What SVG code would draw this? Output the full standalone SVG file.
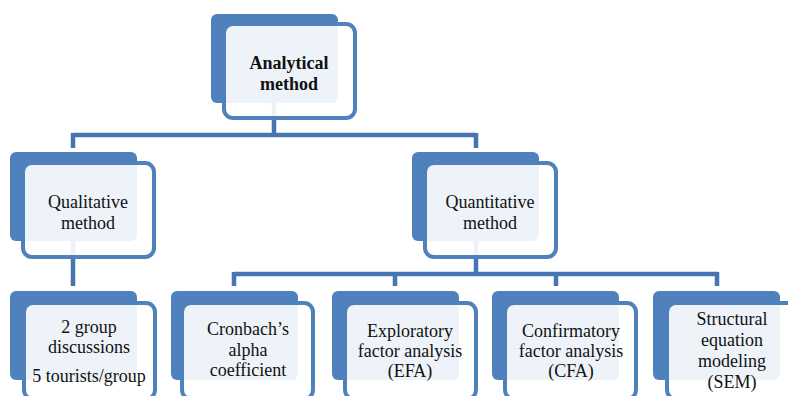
<svg xmlns="http://www.w3.org/2000/svg" width="788" height="396" viewBox="0 0 788 396" font-family="'Liberation Serif', 'DejaVu Serif', serif">
<style>
.back{fill:#4F81BD}
.front{fill:#ffffff;fill-opacity:0.9;stroke:#4F81BD;stroke-width:4}
.conn{fill:none;stroke:#4675B2;stroke-width:4.5}
text{font-family:'Liberation Serif','DejaVu Serif',serif;font-size:18px;fill:#111;text-anchor:middle}
.b{font-weight:bold}
</style>
<rect width="788" height="396" fill="#ffffff"/>
<g id="connectors">
<path class="conn" d="M274 100 V135 M73 135 H476 M73 133 V148 M476 133 V148"/>
<path class="conn" d="M73 240 V286"/>
<path class="conn" d="M476 240 V274 M234 274 H718 M234 272 V286 M395 272 V286 M556 272 V286 M717 272 V286"/>
</g>
<g id="analytical">
<rect class="back" x="211" y="14" width="127" height="89" rx="6"/>
<rect class="front" x="224" y="24" width="131" height="94" rx="9"/>
<text class="b" x="289" y="69">Analytical</text>
<text class="b" x="289" y="90">method</text>
</g>
<g id="qualitative">
<rect class="back" x="10" y="152" width="127" height="89" rx="6"/>
<rect class="front" x="23" y="163" width="131" height="94" rx="9"/>
<text x="88" y="208">Qualitative</text>
<text x="88" y="229">method</text>
</g>
<g id="quantitative">
<rect class="back" x="412" y="152" width="127" height="89" rx="6"/>
<rect class="front" x="425" y="163" width="131" height="94" rx="9"/>
<text x="490" y="208">Quantitative</text>
<text x="490" y="229">method</text>
</g>
<g id="discussions">
<rect class="back" x="10" y="291" width="127" height="89" rx="6"/>
<rect class="front" x="24" y="303" width="131" height="96" rx="9"/>
<text x="89" y="333">2 group</text>
<text x="89" y="353">discussions</text>
<text x="89" y="382">5 tourists/group</text>
</g>
<g id="cronbach">
<rect class="back" x="171" y="291" width="127" height="89" rx="6"/>
<rect class="front" x="182" y="303" width="131" height="96" rx="9"/>
<text x="248" y="335">Cronbach’s</text>
<text x="248" y="356">alpha</text>
<text x="248" y="376">coefficient</text>
</g>
<g id="efa">
<rect class="back" x="332" y="291" width="127" height="89" rx="6"/>
<rect class="front" x="345" y="303" width="131" height="96" rx="9"/>
<text x="410" y="337">Exploratory</text>
<text x="410" y="357">factor analysis</text>
<text x="410" y="377">(EFA)</text>
</g>
<g id="cfa">
<rect class="back" x="492" y="291" width="127" height="89" rx="6"/>
<rect class="front" x="505" y="303" width="131" height="96" rx="9"/>
<text x="571" y="337">Confirmatory</text>
<text x="571" y="357">factor analysis</text>
<text x="571" y="377">(CFA)</text>
</g>
<g id="sem">
<rect class="back" x="653" y="291" width="127" height="89" rx="6"/>
<rect class="front" x="667" y="303" width="131" height="96" rx="9"/>
<text x="732" y="325">Structural</text>
<text x="732" y="346">equation</text>
<text x="732" y="367">modeling</text>
<text x="732" y="388">(SEM)</text>
</g>
</svg>
